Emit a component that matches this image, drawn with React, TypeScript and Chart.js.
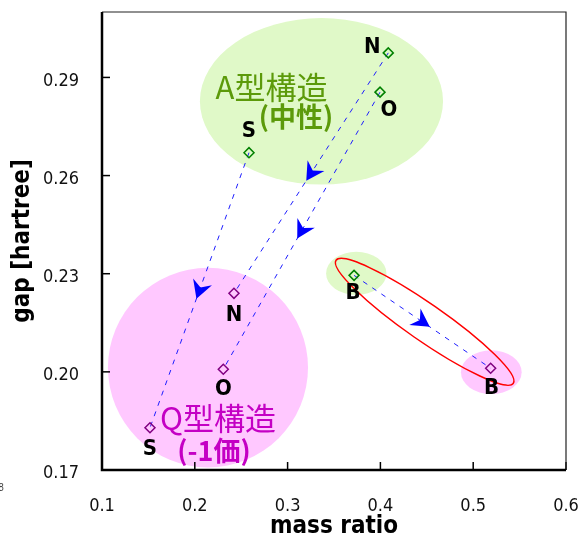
import React, { useEffect, useRef } from 'react';
import { Chart, registerables } from 'chart.js';

Chart.register(...registerables);

// ---- data ----
const atomLabels = ['N', 'O', 'S', 'B'];
const aTypeMass = [0.4085, 0.3996, 0.2584, 0.3716];
const aTypeGap = [0.2975, 0.2855, 0.267, 0.2295];
const qTypeMass = [0.2422, 0.2307, 0.1517, 0.5188];
const qTypeGap = [0.224, 0.2008, 0.1829, 0.2011];
const xTickValues = [0.1, 0.2, 0.3, 0.4, 0.5, 0.6];
const yTickValues = [0.17, 0.2, 0.23, 0.26, 0.29];
const xTitle = 'mass ratio';
const yTitle = 'gap [hartree]';
const aTypeName = 'A型構造';
const aTypeCharge = '(中性)';
const qTypeName = 'Q型構造';
const qTypeCharge = '(-1価)';

// ---- styles / annotation geometry ----
const GREEN_FILL = 'rgb(224,249,200)';
const PINK_FILL = 'rgb(255,200,255)';
const GREEN_TEXT = 'rgb(92,154,10)';
const PINK_TEXT = 'rgb(196,0,196)';
const LATIN = '"DejaVu Sans Condensed", "Liberation Sans Narrow", "DejaVu Sans", sans-serif';
const CJK = '"Noto Sans CJK JP", "Noto Sans", sans-serif';

const regionEllipses = [
  { cx: 0.3365, cy: 0.2827, rx: 0.131, ry: 0.02545, color: GREEN_FILL },
  { cx: 0.2142, cy: 0.2013, rx: 0.1078, ry: 0.0305, color: PINK_FILL },
  { cx: 0.374, cy: 0.2301, rx: 0.0325, ry: 0.0066, color: GREEN_FILL },
  { cx: 0.5195, cy: 0.1999, rx: 0.0327, ry: 0.0067, color: PINK_FILL },
];

const regionTexts = [
  { text: aTypeName, x: 0.2827, y: 0.2869, color: GREEN_TEXT, size: 31, weight: 'normal' },
  { text: aTypeCharge, x: 0.309, y: 0.2781, color: GREEN_TEXT, size: 27, weight: 'bold' },
  { text: qTypeName, x: 0.225, y: 0.1859, color: PINK_TEXT, size: 31, weight: 'normal' },
  { text: qTypeCharge, x: 0.2207, y: 0.1758, color: PINK_TEXT, size: 27, weight: 'bold' },
];

// label offsets in px relative to the point (style)
const aLabelOffsets = [[-16, -6], [9, 18], [0, -21], [-1, 18]];
const qLabelOffsets = [[0, 22], [0, 20], [0, 21], [1, 20]];

const redLoop = { x1: 0.3522, y1: 0.2341, x2: 0.5432, y2: 0.1965, halfWidth: 18.5 };

const zeroPad = (s: any) => {
  s.paddingTop = 0;
  s.paddingBottom = 0;
  s.paddingLeft = 0;
  s.paddingRight = 0;
};

const overlayPlugin = {
  id: 'overlay',
  beforeDatasetsDraw(chart: any) {
    const { ctx } = chart;
    const xs = chart.scales.x;
    const ys = chart.scales.y;
    ctx.save();
    for (const e of regionEllipses) {
      const cx = xs.getPixelForValue(e.cx);
      const cy = ys.getPixelForValue(e.cy);
      const rx = Math.abs(xs.getPixelForValue(e.cx + e.rx) - cx);
      const ry = Math.abs(ys.getPixelForValue(e.cy + e.ry) - cy);
      ctx.beginPath();
      ctx.ellipse(cx, cy, rx, ry, 0, 0, Math.PI * 2);
      ctx.fillStyle = e.color;
      ctx.fill();
    }
    ctx.textAlign = 'center';
    ctx.textBaseline = 'middle';
    for (const t of regionTexts) {
      ctx.font = `${t.weight} ${t.size}px ${CJK}`;
      ctx.fillStyle = t.color;
      ctx.fillText(t.text, xs.getPixelForValue(t.x), ys.getPixelForValue(t.y));
    }
    for (let i = 0; i < atomLabels.length; i++) {
      const x1 = xs.getPixelForValue(aTypeMass[i]);
      const y1 = ys.getPixelForValue(aTypeGap[i]);
      const x2 = xs.getPixelForValue(qTypeMass[i]);
      const y2 = ys.getPixelForValue(qTypeGap[i]);
      ctx.beginPath();
      ctx.setLineDash([5, 6]);
      ctx.strokeStyle = 'rgb(30,30,255)';
      ctx.lineWidth = 1;
      ctx.moveTo(x1, y1);
      ctx.lineTo(x2, y2);
      ctx.stroke();
      ctx.setLineDash([]);
      const len = Math.hypot(x2 - x1, y2 - y1);
      const dx = (x2 - x1) / len;
      const dy = (y2 - y1) / len;
      const nx = -dy;
      const ny = dx;
      const mx = (x1 + x2) / 2;
      const my = (y1 + y2) / 2;
      const tx = mx + 9 * dx;
      const ty = my + 9 * dy;
      ctx.beginPath();
      ctx.moveTo(tx, ty);
      ctx.lineTo(tx - 18 * dx + 10 * nx, ty - 18 * dy + 10 * ny);
      ctx.lineTo(tx - 12 * dx, ty - 12 * dy);
      ctx.lineTo(tx - 18 * dx - 10 * nx, ty - 18 * dy - 10 * ny);
      ctx.closePath();
      ctx.fillStyle = 'rgb(0,0,255)';
      ctx.fill();
    }
    {
      const px1 = xs.getPixelForValue(redLoop.x1);
      const py1 = ys.getPixelForValue(redLoop.y1);
      const px2 = xs.getPixelForValue(redLoop.x2);
      const py2 = ys.getPixelForValue(redLoop.y2);
      const cx = (px1 + px2) / 2;
      const cy = (py1 + py2) / 2;
      const a = Math.hypot(px2 - px1, py2 - py1) / 2;
      const ang = Math.atan2(py2 - py1, px2 - px1);
      ctx.beginPath();
      ctx.ellipse(cx, cy, a, redLoop.halfWidth, ang, 0, Math.PI * 2);
      ctx.strokeStyle = 'rgb(255,0,0)';
      ctx.lineWidth = 1.5;
      ctx.stroke();
    }
    ctx.restore();
  },
  afterDatasetsDraw(chart: any) {
    const { ctx } = chart;
    const xs = chart.scales.x;
    const ys = chart.scales.y;
    ctx.save();
    ctx.font = `bold 22px ${LATIN}`;
    ctx.fillStyle = '#000';
    ctx.textAlign = 'center';
    ctx.textBaseline = 'middle';
    for (let i = 0; i < atomLabels.length; i++) {
      ctx.fillText(
        atomLabels[i],
        xs.getPixelForValue(aTypeMass[i]) + aLabelOffsets[i][0],
        ys.getPixelForValue(aTypeGap[i]) + aLabelOffsets[i][1]
      );
      ctx.fillText(
        atomLabels[i],
        xs.getPixelForValue(qTypeMass[i]) + qLabelOffsets[i][0],
        ys.getPixelForValue(qTypeGap[i]) + qLabelOffsets[i][1]
      );
    }
    ctx.restore();
  },
  afterDraw(chart: any) {
    const { ctx, chartArea } = chart;
    const { left, right, top, bottom } = chartArea;
    const xs = chart.scales.x;
    const ys = chart.scales.y;
    ctx.save();
    ctx.strokeStyle = '#000';
    ctx.lineWidth = 1.5;
    for (const v of xTickValues) {
      const px = xs.getPixelForValue(v);
      ctx.beginPath();
      ctx.moveTo(px, bottom);
      ctx.lineTo(px, bottom - 8);
      ctx.stroke();
    }
    for (const v of yTickValues) {
      const py = ys.getPixelForValue(v);
      ctx.beginPath();
      ctx.moveTo(left, py);
      ctx.lineTo(left + 8, py);
      ctx.stroke();
    }
    ctx.strokeStyle = '#222';
    ctx.lineWidth = 1.2;
    ctx.beginPath();
    ctx.moveTo(left, top);
    ctx.lineTo(right, top);
    ctx.lineTo(right, bottom);
    ctx.stroke();
    ctx.strokeStyle = '#000';
    ctx.lineWidth = 2.5;
    ctx.beginPath();
    ctx.moveTo(left, top);
    ctx.lineTo(left, bottom);
    ctx.lineTo(right, bottom);
    ctx.stroke();
    ctx.font = `10px ${LATIN}`;
    ctx.fillStyle = '#444';
    ctx.textAlign = 'center';
    ctx.textBaseline = 'middle';
    ctx.fillText('8', 1, 488);
    ctx.restore();
  },
};

export default function App() {
  const ref = useRef<HTMLCanvasElement>(null);
  useEffect(() => {
    const canvas = ref.current!;
    const chart = new Chart(canvas, {
      type: 'scatter',
      data: {
        datasets: [
          {
            label: 'A',
            data: aTypeMass.map((m, i) => ({ x: m, y: aTypeGap[i] })),
            pointStyle: 'rectRot',
            pointRadius: 5,
            pointBorderWidth: 1.5,
            borderColor: 'rgb(0,128,0)',
            backgroundColor: 'rgba(0,0,0,0)',
          },
          {
            label: 'Q',
            data: qTypeMass.map((m, i) => ({ x: m, y: qTypeGap[i] })),
            pointStyle: 'rectRot',
            pointRadius: 5,
            pointBorderWidth: 1.5,
            borderColor: 'rgb(128,0,128)',
            backgroundColor: 'rgba(0,0,0,0)',
          },
        ],
      },
      options: {
        responsive: false,
        animation: false,
        devicePixelRatio: 1,
        layout: { padding: { top: 12, right: 18, left: 0, bottom: 0 } },
        plugins: { legend: { display: false }, tooltip: { enabled: false } },
        scales: {
          x: {
            type: 'linear',
            min: 0.1,
            max: 0.6,
            afterBuildTicks: (s: any) => {
              s.ticks = xTickValues.map((v) => ({ value: v }));
            },
            afterFit: (s: any) => {
              s.height = 69;
              zeroPad(s);
            },
            grid: { display: false, drawTicks: false },
            border: { display: false },
            ticks: {
              padding: 26,
              color: '#111',
              autoSkip: false,
              maxRotation: 0,
              font: { family: LATIN, size: 18 },
              callback: (v: any) => Number(v).toFixed(1),
            },
            title: {
              display: true,
              text: xTitle,
              color: '#000',
              padding: 0,
              font: { family: LATIN, size: 24, weight: 'bold', lineHeight: 1.0 },
            },
          },
          y: {
            type: 'linear',
            min: 0.17,
            max: 0.31,
            afterBuildTicks: (s: any) => {
              s.ticks = yTickValues.map((v) => ({ value: v }));
            },
            afterFit: (s: any) => {
              s.width = 102;
              zeroPad(s);
            },
            grid: { display: false, drawTicks: false },
            border: { display: false },
            ticks: {
              padding: 23,
              labelOffset: 3.5,
              color: '#111',
              autoSkip: false,
              font: { family: LATIN, size: 18 },
              callback: (v: any) => Number(v).toFixed(2),
            },
            title: {
              display: true,
              text: yTitle,
              color: '#000',
              padding: 8,
              font: { family: LATIN, size: 24, weight: 'bold' },
            },
          },
        },
      },
      plugins: [overlayPlugin],
    } as any);
    return () => chart.destroy();
  }, []);
  return (
    <div style={{ position: 'fixed', left: 0, top: 0, width: 584, height: 539, background: '#fff' }}>
      <canvas ref={ref} width={584} height={539} style={{ display: 'block', width: 584, height: 539 }} />
    </div>
  );
}
